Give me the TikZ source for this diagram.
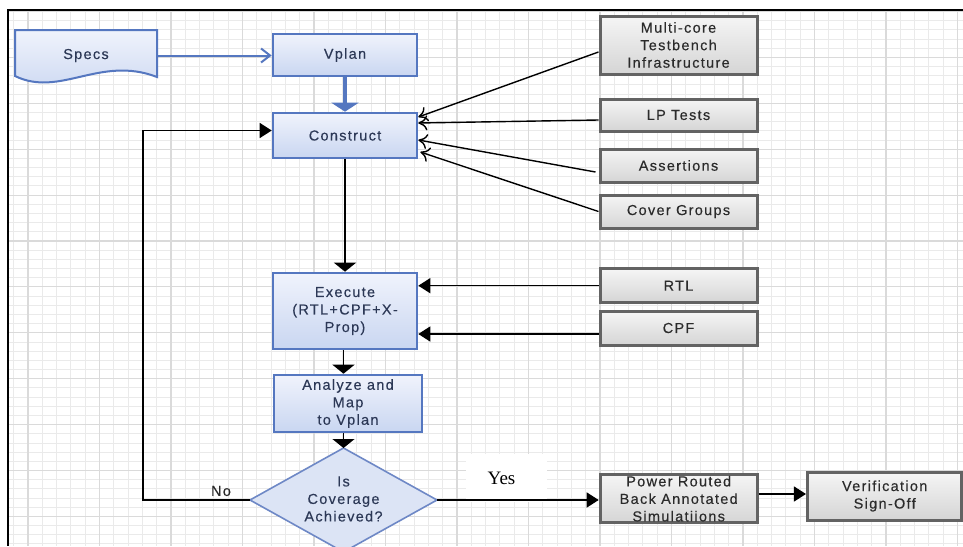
\documentclass[tikz,border=0pt]{standalone}
\usepackage{fontspec}
\setmainfont{Liberation Serif}
\newfontfamily\dsans[LetterSpace=9,FakeBold=0.3]{Liberation Sans}
\usetikzlibrary{arrows.meta,calc}
\definecolor{bborder}{HTML}{5577C0}
\definecolor{btop}{HTML}{F0F3FC}
\definecolor{bbot}{HTML}{C9D6F1}
\definecolor{btext}{HTML}{2C3856}
\definecolor{gborder}{HTML}{636363}
\definecolor{gtop}{HTML}{F5F5F5}
\definecolor{gbot}{HTML}{D5D5D5}
\definecolor{gtext}{HTML}{2B2B2B}
\definecolor{diafill}{HTML}{DCE4F5}
\definecolor{diaborder}{HTML}{6E88C6}
\definecolor{gridminor}{HTML}{EAEAEA}
\definecolor{gridmajor}{HTML}{DADADA}
\newcommand\boxfont{\dsans\fontsize{14.5}{17.5}\selectfont}
\tikzset{
  bluebox/.style={draw=bborder, line width=2.6pt, top color=btop, bottom color=bbot,
    minimum width=144pt, text=btext, font=\boxfont, align=center, inner sep=0pt},
  graybox/.style={draw=gborder, line width=3pt, top color=gtop, bottom color=gbot,
    minimum width=157pt, text=gtext, font=\boxfont, align=center, inner sep=0pt},
  conn/.style={draw=black, line width=1.4pt},
  tri/.style={-{Triangle[length=12pt,width=15pt]}},
  trid/.style={-{Triangle[length=9pt,width=22pt]}},
  chev/.style={-{Computer Modern Rightarrow[length=9pt,width=15pt]}},
  gminor/.style={draw=gridminor, line width=0.9pt},
  gmajor/.style={draw=gridmajor, line width=1.1pt}
}
\begin{document}
\begin{tikzpicture}[x=1pt,y=-1pt]
\useasboundingbox (0,0) rectangle (963,546);
\fill[white] (0,0) rectangle (963,546);
% grid
\foreach \i in {0,...,66} {\pgfmathsetmacro\xx{13.7+14.3*\i}\draw[gminor] (\xx,10) -- (\xx,546);}
\foreach \i in {0,...,58} {\pgfmathsetmacro\yy{11.5+9.18*\i}\draw[gminor] (8,\yy) -- (963,\yy);}
\foreach \i in {0,...,13} {\pgfmathsetmacro\xx{28+71.5*\i}\draw[gmajor] (\xx,10) -- (\xx,546);}
\foreach \i in {0,...,11} {\pgfmathsetmacro\yy{11.5+45.9*\i}\draw[gmajor] (8,\yy) -- (963,\yy);}
% frame
\draw[line width=2.2pt] (963,10) -- (8,10) -- (8,546);

% Specs document shape
\draw[draw=bborder, line width=2pt, top color=btop, bottom color=bbot]
  (15,30) -- (157,30) -- (157,77) .. controls (100,55) and (60,98) .. (15,76) -- cycle;
\node[font=\boxfont, text=btext, minimum width=142pt, inner sep=0pt] (specs) at (86,55.5) {Specs};

% blue boxes
\node[bluebox, minimum height=42pt] (vplan) at (345,55) {Vplan};
\node[bluebox, minimum height=45pt] (construct) at (345,135.5) {Construct};
\node[bluebox, minimum height=76pt] (exec) at (345,311) {Execute\\(RTL+CPF+X-\\Prop)};
\node[bluebox, minimum width=148pt, minimum height=57pt] (analyze) at (348,403.5) {Analyze and\\Map\\to Vplan};

% diamond
\coordinate (diaT) at (343.5,448);
\coordinate (diaR) at (437,500);
\coordinate (diaB) at (343.5,552);
\coordinate (diaL) at (250,500);
\draw[fill=diafill, draw=diaborder, line width=1.6pt] (diaT) -- (diaR) -- (diaB) -- (diaL) -- cycle;
\node[font=\boxfont, text=btext, align=center] (dia) at (343.5,499) {Is\\Coverage\\Achieved?};

% gray boxes
\node[graybox, minimum height=58pt] (multi) at (678.5,45) {Multi-core\\Testbench\\Infrastructure};
\node[graybox, minimum height=32pt] (lp) at (678.5,115) {LP Tests};
\node[graybox, minimum height=33pt] (asrt) at (678.5,165.5) {Assertions};
\node[graybox, minimum height=33pt] (cover) at (678.5,211.5) {Cover Groups};
\node[graybox, minimum height=34pt] (rtl) at (678.5,285.7) {RTL};
\node[graybox, minimum height=34pt] (cpf) at (678.5,328) {CPF};
\node[graybox, minimum height=48.5pt] (power) at (678.7,498.7) {Power Routed\\Back Annotated\\Simulatiions};
\node[graybox, minimum width=154.5pt, minimum height=48pt] (verif) at (884.7,496) {Verification\\Sign-Off};

% labels
\node[font=\boxfont, text=gtext, inner sep=0pt] (nolab) at (221,491) {No};
\node[fill=white, minimum width=81pt, minimum height=48pt, inner sep=0pt,
  font=\fontsize{19}{22}\selectfont] (yeslab) at (506.5,478) {Yes\hspace*{10pt}};

% connectors
\draw[draw=bborder, line width=2pt, -{Straight Barb[length=9pt,width=14pt]}]
  (specs.east) -- (specs.east -| vplan.west);
\draw[draw=bborder, line width=3.2pt, -{Triangle[length=9pt,width=27pt]}, color=bborder]
  (vplan.south) -- (construct.north);

\draw[conn, chev] ($(multi.west)+(0,7)$) -- ($(construct.east)+(0,-18.5)$);
\draw[conn, chev] ($(lp.west)+(0,5)$) -- ($(construct.east)+(0,-12.5)$);
\draw[conn, chev] ($(asrt.west)+(-3,6.5)$) -- ($(construct.east)+(0,4.5)$);
\draw[conn, chev] (cover.west) -- ($(construct.east)+(2,16.5)$);

\draw[conn, trid] (construct.south) -- (exec.north);
\draw[conn, tri] (rtl.west) -- (rtl.west -| exec.east);
\coordinate (cpfin) at ($(cpf.west)+(0,6)$);
\draw[conn, tri] (cpfin) -- (cpfin -| exec.east);
\draw[conn, trid] (diaT |- exec.south) -- (diaT |- analyze.north);
\draw[conn, trid] (diaT |- analyze.south) -- (diaT);

\coordinate (fb) at (143,500);
\draw[conn, tri] (diaL) -- (fb) |- ($(construct.west)+(0,-5)$);
\draw[conn, tri] (diaR) -- (diaR -| power.west);
\coordinate (pout) at ($(power.east)+(0,-4.7)$);
\draw[conn, tri] (pout) -- (pout -| verif.west);
\end{tikzpicture}
\end{document}
